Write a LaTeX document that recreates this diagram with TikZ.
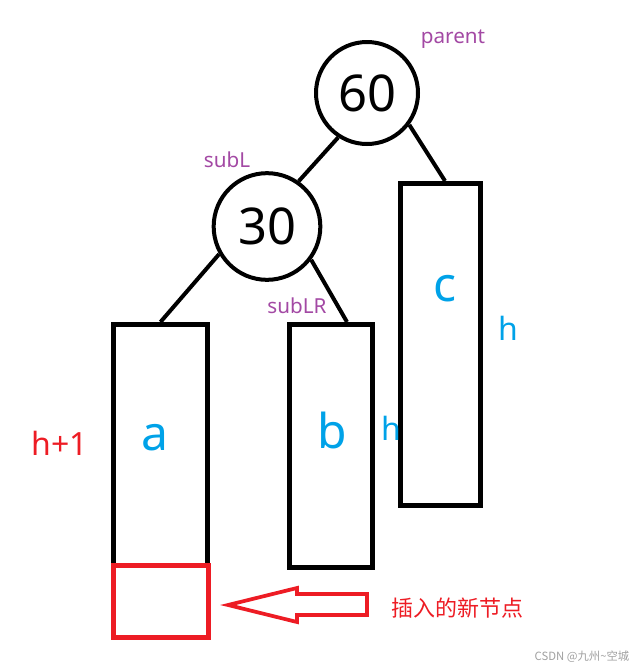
\documentclass[tikz,border=0pt]{standalone}
\usepackage{fontspec}
\setmainfont{Noto Sans}
\newfontfamily\cjk{Noto Sans CJK SC}
\usetikzlibrary{positioning}

\definecolor{avl@red}{RGB}{237,28,36}
\definecolor{avl@blue}{RGB}{0,162,232}
\definecolor{avl@purple}{RGB}{163,73,164}
\definecolor{avl@grey}{RGB}{160,160,160}

\begin{document}
\begin{tikzpicture}[x=0.75pt, y=-0.75pt, line join=miter,
    keynode/.style={circle, draw, line width=3pt, inner sep=0pt,
                    font=\fontsize{38}{40}\selectfont},
    subtree/.style={draw, line width=3.75pt, inner sep=0pt},
    link/.style={line width=3pt},
    heightlbl/.style={font=\fontsize{24}{26}\selectfont},
    treename/.style={text=avl@blue, font=\fontsize{36}{38}\selectfont},
    ptrname/.style={text=avl@purple, font=\fontsize{15.5}{17}\selectfont}]

  % Bounding box = the whole canvas
  \path[use as bounding box] (0,0) rectangle (634,668);

  % ---- KEYS ----
  \node[keynode, minimum size=76.5pt] (k60) at (367,93) {60};
  \node[keynode, minimum size=80pt] (k30) at (267,226.5) {30};

  % ---- SUBTREES ----
  \node[subtree, minimum width=70.5pt, minimum height=180.4pt] (ta) at (160.5,444.75) {};
  \node[subtree, minimum width=62.25pt, minimum height=182.25pt] (tb) at (331,446) {};
  \node[subtree, minimum width=60pt, minimum height=241.5pt] (tc) at (440.5,344.5) {};

  % new leaf sits under a, on top of its bottom edge
  \node[subtree, draw=avl@red, minimum width=71.25pt, minimum height=54pt] (leaf) at (161,601.5) {};

  % ---- LINKS ----
  \draw[link] (k60.237) -- (k30.55);
  \draw[link] (k60.-37) -- ([xshift=3.4pt]tc.north);
  \draw[link] (k30.210) -- (ta.north);
  \draw[link] (k30.-37) -- ([xshift=12pt]tb.north);

  % ---- LABELS ----
  \node[treename] (la) at (155,438) {a};
  \node[treename] (lb) at (332,430) {b};
  \node[treename] (lc) at (445,289) {c};

  \node[heightlbl, text=avl@blue] (hc) at (508,328) {h};
  \node[heightlbl, text=avl@blue] (hb) at (391,428) {h};
  \node[heightlbl, text=avl@red] (ha) at (60,443) {h+1};

  \node[ptrname] (pparent) at (453,39) {parent};
  \node[ptrname] (psubl) at (227,160) {subL};
  \node[ptrname] (psublr) at (297,306) {subLR};

  % ---- HOLLOW ARROW pointing at the new leaf ----
  \draw[avl@red, line width=2.8pt]
    (228,605) -- (297,588) -- (297,594) -- (367,594) --
    (367,615) -- (297,615) -- (297,622) -- cycle;
  \node[text=avl@red, font=\cjk\fontsize{16.5}{18}\selectfont] (newtxt) at (457,608) {插入的新节点};

  \node[text=avl@grey, font=\cjk\fontsize{8.5}{10}\selectfont] (mark) at (582,657) {CSDN @九州\textasciitilde 空城};
\end{tikzpicture}
\end{document}
